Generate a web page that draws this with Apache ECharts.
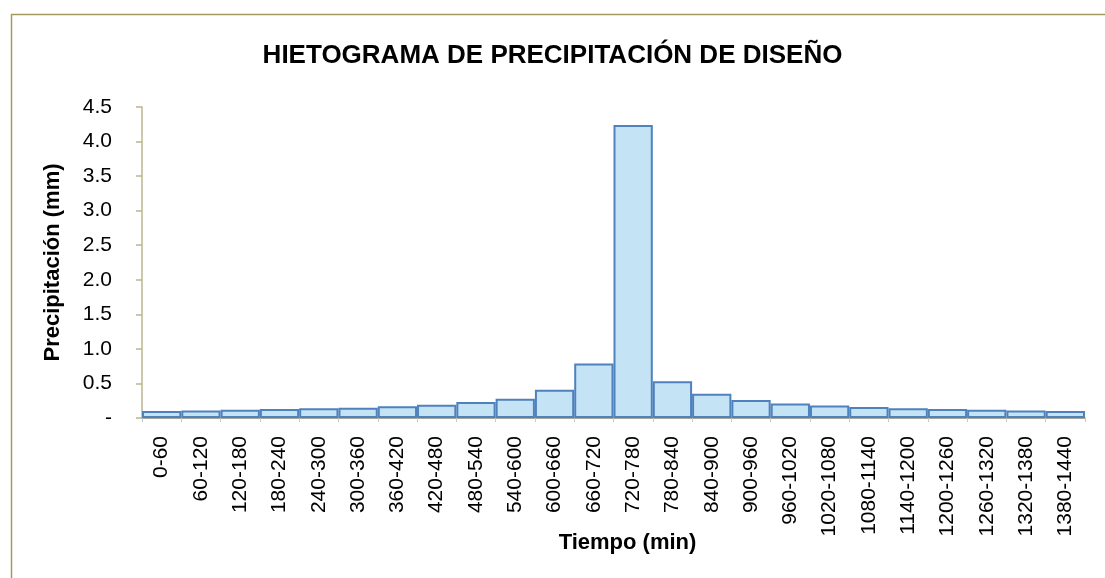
<!DOCTYPE html>
<html>
<head>
<meta charset="utf-8">
<title>Hietograma</title>
<script src="https://cdn.jsdelivr.net/npm/echarts@6/dist/echarts.min.js"></script>
<style>
  html, body { margin: 0; padding: 0; background: #fff; }
  #chart { width: 1105px; height: 578px; }
</style>
</head>
<body>
<div id="chart"></div>
<script>
// intervalos de tiempo (min)
const categories = ['0-60','60-120','120-180','180-240','240-300','300-360','360-420','420-480',
    '480-540','540-600','600-660','660-720','720-780','780-840','840-900','900-960',
    '960-1020','1020-1080','1080-1140','1140-1200','1200-1260','1260-1320','1320-1380','1380-1440'];
// precipitación (mm)
const precip = [0.10, 0.11, 0.12, 0.13, 0.14, 0.15, 0.17, 0.19, 0.23, 0.28, 0.41, 0.79,
    4.24, 0.53, 0.35, 0.26, 0.21, 0.18, 0.16, 0.14, 0.13, 0.12, 0.11, 0.10];
const yTicks = { min: 0, max: 4.5, step: 0.5 };

const font = '"Liberation Sans Narrow", "Arial Narrow", "Liberation Sans", sans-serif';

const chart = echarts.init(document.getElementById('chart'));
chart.setOption({
    animation: false,
    textStyle: { fontFamily: font },
    title: {
        text: 'HIETOGRAMA DE PRECIPITACIÓN DE DISEÑO',
        left: 'center',
        top: 38,
        textStyle: { fontFamily: font, fontSize: 26, fontWeight: 'bold', color: '#000' }
    },
    graphic: [{
        type: 'rect',
        left: 9, top: 12,
        shape: { width: 1200, height: 700 },
        style: { fill: null, stroke: '#a39b5e', lineWidth: 1.5 },
        silent: true
    }],
    grid: { left: 142, right: 20, top: 107, bottom: 160 },
    xAxis: {
        type: 'category',
        data: categories,
        name: 'Tiempo (min)',
        nameLocation: 'middle',
        nameGap: 114,
        nameMoveOverlap: false,
        nameTextStyle: { fontFamily: font, fontSize: 22, fontWeight: 'bold', color: '#000', padding: [0, 0, 0, 28] },
        axisLine: { lineStyle: { color: '#8c8c74', width: 1.5 } },
        axisTick: { show: true, length: 4, lineStyle: { color: '#c8c8c8' } },
        axisLabel: { rotate: 90, margin: 18, fontSize: 21, color: '#000', interval: 0 }
    },
    yAxis: {
        type: 'value',
        min: yTicks.min,
        max: yTicks.max,
        interval: yTicks.step,
        name: 'Precipitación (mm)',
        nameLocation: 'middle',
        nameGap: 78,
        nameMoveOverlap: false,
        nameTextStyle: { fontFamily: font, fontSize: 22, fontWeight: 'bold', color: '#000' },
        splitLine: { show: false },
        axisLine: { show: true, lineStyle: { color: '#bdb58f', width: 1.5 } },
        axisTick: { show: true, length: 6, lineStyle: { color: '#bdb58f', width: 1.5 } },
        axisLabel: {
            margin: 30, fontSize: 21, color: '#000',
            formatter: v => v === 0 ? '-' : v.toFixed(1)
        }
    },
    series: [{
        type: 'bar',
        data: precip,
        barCategoryGap: '0%',
        itemStyle: { color: '#c4e3f5', borderColor: '#4f81bd', borderWidth: 2 }
    }]
});
</script>
</body>
</html>
